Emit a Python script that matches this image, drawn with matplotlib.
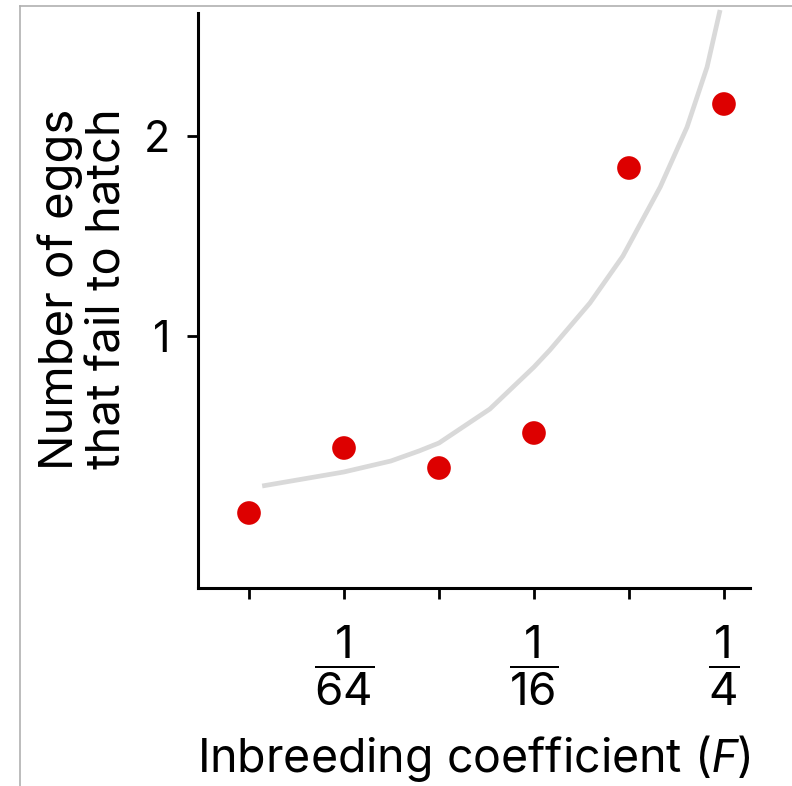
import matplotlib
matplotlib.use("Agg")
import matplotlib.pyplot as plt
from matplotlib.lines import Line2D
from matplotlib.ticker import FixedLocator, FixedFormatter

plt.rcParams['font.family'] = ['Inter', 'DejaVu Sans']
plt.rcParams['mathtext.fontset'] = 'custom'
plt.rcParams['mathtext.rm'] = 'Inter'
plt.rcParams['mathtext.it'] = 'Roboto:italic'

# Data
F_points = [1/128, 1/64, 1/32, 1/16, 1/8, 1/4]
eggs_failed = [0.115, 0.44, 0.34, 0.515, 1.84, 2.16]

# Gray trend curve
curve_F = [0.0086, 0.0156, 0.0220, 0.0270, 0.03125, 0.0453, 0.0625, 0.0702,
           0.0940, 0.1196, 0.157, 0.191, 0.221, 0.243]
curve_y = [0.25, 0.32, 0.375, 0.425, 0.465, 0.635, 0.845, 0.93,
           1.165, 1.40, 1.745, 2.045, 2.345, 2.63]

x_ticks = [1/128, 1/64, 1/32, 1/16, 1/8, 1/4]
x_ticklabels = ['', r'$\dfrac{1}{64}$', '', r'$\dfrac{1}{16}$', '', r'$\dfrac{1}{4}$']
y_ticks = [1, 2]
y_ticklabels = ['1', '2']

fig = plt.figure(figsize=(7.92, 7.86), dpi=100)
ax = fig.add_axes([198/792, 1 - 588/786, 552/792, 575/786])

ax.set_xscale('log', base=2)
ax.plot(curve_F, curve_y, color='#d9d9d9', lw=3.4, solid_capstyle='butt',
        solid_joinstyle='round', clip_on=False, zorder=2)
ax.scatter(F_points, eggs_failed, s=290, color='#dd0000', edgecolors='none',
           zorder=3)

ax.set_xlim(2 ** -7.537, 2 ** -1.726)
ax.set_ylim(-0.26, 2.615)

ax.xaxis.set_major_locator(FixedLocator(x_ticks))
ax.xaxis.set_major_formatter(FixedFormatter(x_ticklabels))
ax.xaxis.set_minor_locator(FixedLocator([]))
ax.set_yticks(y_ticks)
ax.set_yticklabels(y_ticklabels)

for s in ['top', 'right']:
    ax.spines[s].set_visible(False)
for s in ['left', 'bottom']:
    ax.spines[s].set_linewidth(2.2)

ax.tick_params(axis='x', direction='out', length=8, width=2, labelsize=33, pad=18)
ax.tick_params(axis='y', direction='out', length=8, width=2, labelsize=31, pad=12)

ax.set_xlabel(r'Inbreeding coefficient ($\mathit{F}$)', fontsize=33.5, labelpad=18)
ax.set_ylabel('Number of eggs\nthat fail to hatch', fontsize=34, linespacing=1.12)
ax.yaxis.set_label_coords(-0.122, 0.52)

# thin gray frame lines (top and left)
fig.add_artist(Line2D([20/792, 20/792], [0, 1 - 6/786], transform=fig.transFigure,
                      color='#b0b0b0', lw=1.2))
fig.add_artist(Line2D([20/792, 1], [1 - 6/786, 1 - 6/786], transform=fig.transFigure,
                      color='#b0b0b0', lw=1.2))

fig.savefig('out.png', dpi=100)
